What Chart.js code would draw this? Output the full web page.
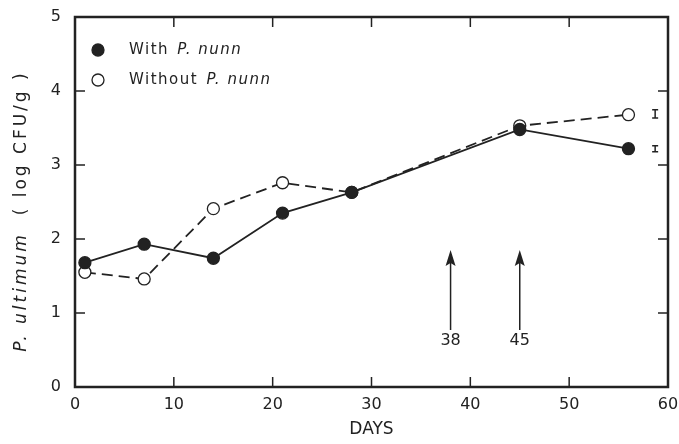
<!DOCTYPE html>
<html>
<head>
<meta charset="utf-8">
<script src="https://cdn.jsdelivr.net/npm/chart.js@4.4.0/dist/chart.umd.min.js"></script>
<style>
  html, body { margin: 0; padding: 0; background: #fff; }
  #wrap { width: 679px; height: 444px; }
</style>
</head>
<body>
<div id="wrap"><canvas id="pythiumChart" width="679" height="444"></canvas></div>
<script>
const days = [1, 7, 14, 21, 28, 45, 56];
const withNunn = [1.68, 1.93, 1.74, 2.35, 2.63, 3.48, 3.22];
const withoutNunn = [1.55, 1.46, 2.41, 2.76, 2.63, 3.53, 3.68];

const xTicks = [0, 10, 20, 30, 40, 50, 60];
const yTicks = [0, 1, 2, 3, 4, 5];

// arrows marking days 38 and 45
const arrowDays = [38, 45];
const arrowLabels = ["38", "45"];
const arrowBottom = 0.77;
const arrowTop = 1.85;
const arrowLabelY = 0.63;

// error bars at the right edge
const errDay = 58.7;
const errCenter = [3.69, 3.22];
const errHalf = [0.055, 0.04];

const ink = "#222";
const fontName = "'DejaVu Sans', sans-serif";

const toPoints = (ys) => days.map((d, i) => ({ x: d, y: ys[i] }));

const extrasPlugin = {
  id: "extras",
  afterDraw(chart) {
    const ctx = chart.ctx;
    const xs = chart.scales.x;
    const ys = chart.scales.y;
    const a = chart.chartArea;
    ctx.save();

    // frame
    ctx.strokeStyle = ink;
    ctx.lineWidth = 2.5;
    ctx.strokeRect(a.left, a.top, a.right - a.left, a.bottom - a.top);

    // inward ticks
    ctx.lineWidth = 1.5;
    xTicks.slice(1, -1).forEach(function (t) {
      const px = xs.getPixelForValue(t);
      ctx.beginPath();
      ctx.moveTo(px, a.bottom); ctx.lineTo(px, a.bottom - 10);
      ctx.moveTo(px, a.top); ctx.lineTo(px, a.top + 10);
      ctx.stroke();
    });
    yTicks.slice(1, -1).forEach(function (t) {
      const py = ys.getPixelForValue(t);
      ctx.beginPath();
      ctx.moveTo(a.left, py); ctx.lineTo(a.left + 10, py);
      ctx.moveTo(a.right, py); ctx.lineTo(a.right - 10, py);
      ctx.stroke();
    });

    // arrows
    ctx.fillStyle = ink;
    ctx.font = "16px " + fontName;
    ctx.textAlign = "center";
    ctx.textBaseline = "middle";
    arrowDays.forEach(function (d, i) {
      const px = xs.getPixelForValue(d);
      const y0 = ys.getPixelForValue(arrowBottom);
      const y1 = ys.getPixelForValue(arrowTop);
      ctx.lineWidth = 1.5;
      ctx.beginPath();
      ctx.moveTo(px, y0); ctx.lineTo(px, y1 + 8);
      ctx.stroke();
      ctx.beginPath();
      ctx.moveTo(px, y1);
      ctx.lineTo(px - 5, y1 + 16);
      ctx.lineTo(px, y1 + 13);
      ctx.lineTo(px + 5, y1 + 16);
      ctx.closePath();
      ctx.fill();
      ctx.fillText(arrowLabels[i], px, ys.getPixelForValue(arrowLabelY));
    });

    // error bars
    ctx.lineWidth = 1.5;
    const ex = xs.getPixelForValue(errDay);
    errCenter.forEach(function (c, i) {
      const top = ys.getPixelForValue(c + errHalf[i]);
      const bot = ys.getPixelForValue(c - errHalf[i]);
      ctx.beginPath();
      ctx.moveTo(ex, top); ctx.lineTo(ex, bot);
      ctx.moveTo(ex - 3, top); ctx.lineTo(ex + 3, top);
      ctx.moveTo(ex - 3, bot); ctx.lineTo(ex + 3, bot);
      ctx.stroke();
    });

    // legend with italic species name
    const legendRows = [
      { label: "With ", filled: true, y: 50 },
      { label: "Without ", filled: false, y: 80 }
    ];
    ctx.textAlign = "left";
    legendRows.forEach(function (row) {
      ctx.beginPath();
      ctx.arc(98, row.y, 6, 0, Math.PI * 2);
      ctx.fillStyle = row.filled ? ink : "#fff";
      ctx.fill();
      ctx.lineWidth = 1.3;
      ctx.stroke();
      ctx.fillStyle = ink;
      ctx.font = "15px " + fontName;
      ctx.letterSpacing = "1.5px";
      ctx.fillText(row.label, 129, row.y);
      const w = ctx.measureText(row.label).width;
      ctx.font = "italic 15px " + fontName;
      ctx.fillText("P. nunn", 129 + w + 2, row.y);
    });
    ctx.letterSpacing = "0px";

    // y axis title, rotated, italic genus part
    ctx.translate(22, (a.top + a.bottom) / 2 + 9);
    ctx.rotate(-Math.PI / 2);
    ctx.letterSpacing = "3px";
    const part1 = "P. ultimum";
    const part2 = "  ( log CFU/g )";
    ctx.font = "italic 17px " + fontName;
    const w1 = ctx.measureText(part1).width;
    ctx.font = "17px " + fontName;
    const w2 = ctx.measureText(part2).width;
    const start = -(w1 + w2) / 2;
    ctx.font = "italic 17px " + fontName;
    ctx.fillText(part1, start, 0);
    ctx.font = "17px " + fontName;
    ctx.fillText(part2, start + w1, 0);

    ctx.restore();
  }
};

const pythiumChart = new Chart(document.getElementById("pythiumChart"), {
  type: "line",
  data: {
    datasets: [
      {
        label: "With P. nunn",
        data: toPoints(withNunn),
        borderColor: ink,
        borderWidth: 1.8,
        pointRadius: 6,
        pointBackgroundColor: ink,
        pointBorderColor: ink,
        pointBorderWidth: 1.3,
        tension: 0
      },
      {
        label: "Without P. nunn",
        data: toPoints(withoutNunn),
        borderColor: ink,
        borderWidth: 1.8,
        borderDash: [11, 6],
        pointRadius: 6,
        pointBackgroundColor: "#fff",
        pointBorderColor: ink,
        pointBorderWidth: 1.3,
        tension: 0
      }
    ]
  },
  options: {
    responsive: false,
    animation: false,
    layout: { padding: { top: 17, right: 11, left: 0, bottom: 0 } },
    plugins: {
      legend: { display: false },
      tooltip: { enabled: false }
    },
    scales: {
      x: {
        type: "linear",
        min: 0,
        max: 60,
        afterBuildTicks(axis) { axis.ticks = xTicks.map(v => ({ value: v })); },
        afterFit(axis) { axis.height = 57; },
        grid: { display: false },
        border: { display: false },
        ticks: { color: ink, font: { size: 16, family: fontName }, padding: 0 },
        title: {
          display: true,
          text: "DAYS",
          color: ink,
          font: { size: 17, family: fontName },
          padding: { top: 20 }
        }
      },
      y: {
        min: 0,
        max: 5,
        afterBuildTicks(axis) { axis.ticks = yTicks.map(v => ({ value: v })); },
        afterFit(axis) { axis.width = 75; },
        grid: { display: false },
        border: { display: false },
        ticks: { color: ink, font: { size: 16, family: fontName }, padding: 6 }
      }
    }
  },
  plugins: [extrasPlugin]
});
</script>
</body>
</html>
